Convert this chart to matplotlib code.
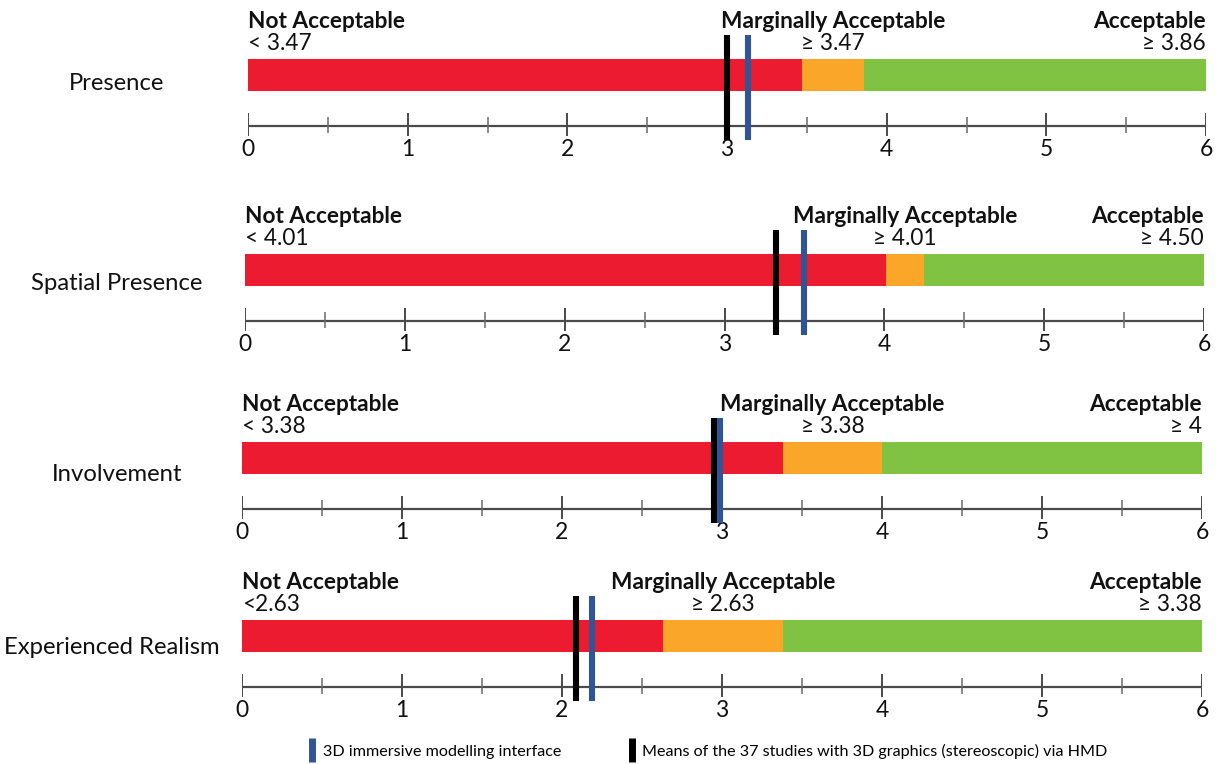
import matplotlib
matplotlib.use("Agg")
import matplotlib.pyplot as plt
import matplotlib.transforms as mtransforms
from matplotlib.lines import Line2D

# ---------------- data ----------------
rows = ["Presence", "Spatial Presence", "Involvement", "Experienced Realism"]
red_end = [3.47, 4.01, 3.38, 2.63]
orange_end = [3.86, 4.25, 4.00, 3.38]
not_acc_labels = ["< 3.47", "< 4.01", "< 3.38", "<2.63"]
marg_labels = ["\u2265 3.47", "\u2265 4.01", "\u2265 3.38", "\u2265 2.63"]
acc_labels = ["\u2265 3.86", "\u2265 4.50", "\u2265 4", "\u2265 3.38"]
hmd_means = [3.00, 3.32, 2.95, 2.09]
interface_means = [3.13, 3.50, 2.99, 2.19]
scale_max = 6
major_ticks = [0, 1, 2, 3, 4, 5, 6]
minor_ticks = [0.5, 1.5, 2.5, 3.5, 4.5, 5.5]
legend_labels = ["3D immersive modelling interface",
                 "Means of the 37 studies with 3D graphics (stereoscopic) via HMD"]

# ---------------- layout (pixels) ----------------
W, H = 1220, 764
x0_px = [248, 245, 242, 242]
x6_px = [1206, 1204, 1202, 1202]
bar_top_px = [59, 254, 442, 620]
row_label_x = [117, 116.5, 117, 112]
row_label_base = [90, 290, 481, 654]

RED, ORANGE, GREEN = "#ED1B2F", "#FAA628", "#80C342"
BLUE, BLACK = "#2F5597", "#000000"
FONT = "Lato"
HEAD = 16.3

fig = plt.figure(figsize=(W / 100, H / 100), dpi=100)
fig.patch.set_facecolor("white")

for i in range(len(rows)):
    ax = fig.add_axes([x0_px[i] / W, 0, (x6_px[i] - x0_px[i]) / W, 1])
    ax.set_xlim(0, scale_max)
    ax.set_ylim(H, 0)
    ax.axis("off")

    top = bar_top_px[i]
    bar_h = 32
    axis_y = top + 67

    lefts = [0, red_end[i], orange_end[i]]
    widths = [red_end[i], orange_end[i] - red_end[i], scale_max - orange_end[i]]
    ax.barh([top + bar_h / 2] * 3, widths, left=lefts, height=bar_h,
            color=[RED, ORANGE, GREEN], linewidth=0)

    # axis
    ax.hlines(axis_y, 0, scale_max, color="#4a4a4a", lw=1.6)
    ax.vlines(major_ticks, axis_y - 13, axis_y + 10, color="#4a4a4a", lw=1.4)
    ax.vlines(minor_ticks, axis_y - 9, axis_y + 7, color="#6a6a6a", lw=1.1)
    for t in major_ticks:
        ax.text(t, axis_y + 13, str(t), ha="center", va="top",
                fontsize=16.5, family=FONT, color="#111111")

    # mean markers
    ax.vlines(hmd_means[i], top - 24, axis_y + 14, color=BLACK, lw=4.4, zorder=5)
    ax.vlines(interface_means[i], top - 24, axis_y + 14, color=BLUE, lw=4.4, zorder=6)

    # headers
    hb = top - 31
    vb = top - 9
    mid = (red_end[i] + orange_end[i]) / 2
    ax.text(0, hb, "Not Acceptable", ha="left", va="baseline",
            fontsize=HEAD, fontweight="bold", family=FONT, color="#111111")
    ax.text(0, vb, not_acc_labels[i], ha="left", va="baseline",
            fontsize=HEAD, family=FONT, color="#111111")
    ax.text(mid, hb, "Marginally Acceptable", ha="center", va="baseline",
            fontsize=HEAD, fontweight="bold", family=FONT, color="#111111")
    ax.text(mid, vb, marg_labels[i], ha="center", va="baseline",
            fontsize=HEAD, family=FONT, color="#111111")
    ax.text(scale_max, hb, "Acceptable", ha="right", va="baseline",
            fontsize=HEAD, fontweight="bold", family=FONT, color="#111111")
    ax.text(scale_max, vb, acc_labels[i], ha="right", va="baseline",
            fontsize=HEAD, family=FONT, color="#111111")

    # row label
    tr = mtransforms.blended_transform_factory(fig.transFigure, ax.transData)
    ax.text(row_label_x[i] / W, row_label_base[i], rows[i], transform=tr,
            ha="center", va="baseline", fontsize=17.2, family=FONT,
            color="#111111", clip_on=False)

handles = [Line2D([], [], color=BLUE, marker="|", ls="none", markersize=17, mew=5),
           Line2D([], [], color=BLACK, marker="|", ls="none", markersize=17, mew=5)]
fig.legend(handles, legend_labels, loc="center left", ncol=2, frameon=False,
           bbox_to_anchor=(300 / W, 1 - 751 / H), prop={"family": FONT, "size": 11.6},
           handlelength=0.55, handletextpad=0.35, columnspacing=4.15, borderpad=0)

fig.savefig("out.png", dpi=100, facecolor="white")
